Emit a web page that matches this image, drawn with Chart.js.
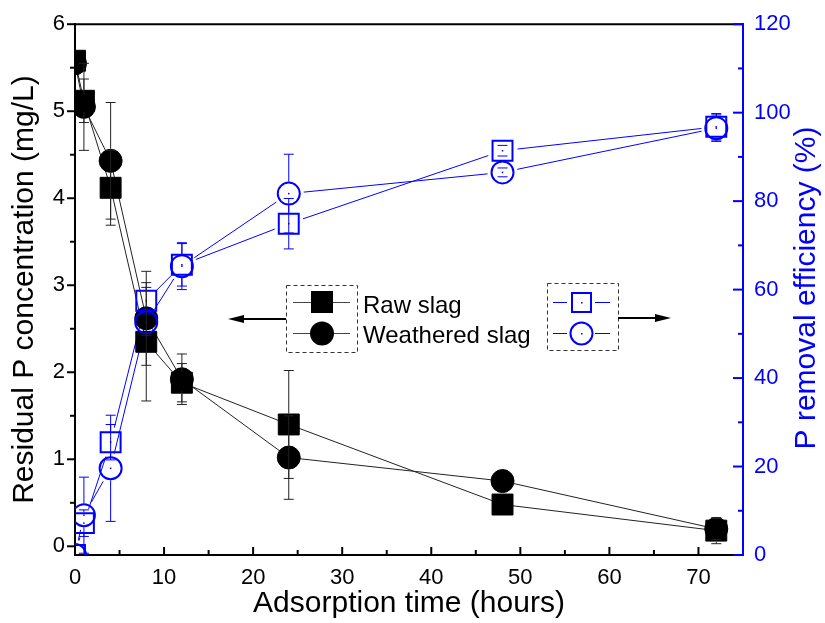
<!DOCTYPE html>
<html>
<head>
<meta charset="utf-8">
<script src="https://cdn.jsdelivr.net/npm/chart.js@4.4.1/dist/chart.umd.min.js"></script>
<style>
  html, body { margin: 0; padding: 0; background: #fff; }
</style>
</head>
<body>
<canvas id="adsorptionChart" width="825" height="623"></canvas>
<script>
// Datos
const timeHours = [0, 1, 4, 8, 12, 24, 48, 72];

// Concentración residual de P (mg/L), eje izquierdo
const rawConc = [5.58, 5.12, 4.12, 2.35, 1.88, 1.40, 0.48, 0.18];
const rawConcErr = [0, 0.25, 0.43, 0.68, 0.22, 0.62, 0, 0.15];
const weatheredConc = [5.55, 5.05, 4.43, 2.62, 1.92, 1.02, 0.75, 0.20];
const weatheredConcErr = [0, 0.50, 0.67, 0.54, 0.29, 0.48, 0, 0.12];

// Eficiencia de eliminación de P (%), eje derecho
const rawRemoval = [0, 7.2, 25.5, 57.5, 65.6, 74.9, 91.4, 96.8];
const rawRemovalErr = [0, 3, 4, 3, 4.8, 5.7, 1.2, 3];
const weatheredRemoval = [0, 9.0, 19.6, 52.6, 65.3, 81.7, 86.5, 96.5];
const weatheredRemovalErr = [0, 8.6, 12, 3, 5.3, 8.9, 1, 3];

// Marcas de los ejes
const xTicks = [0, 10, 20, 30, 40, 50, 60, 70];
const xMinorTicks = [5, 15, 25, 35, 45, 55, 65];
const concTicks = [0, 1, 2, 3, 4, 5, 6];
const concMinorTicks = [0.5, 1.5, 2.5, 3.5, 4.5, 5.5];
const removalTicks = [0, 20, 40, 60, 80, 100, 120];
const removalMinorTicks = [10, 30, 50, 70, 90, 110];

const BLUE = "#0000ff";
const FONT = "'Liberation Sans', Arial, sans-serif";

const toPoints = (xs, ys) => xs.map((x, i) => ({ x, y: ys[i] }));

// Líneas con hueco alrededor de los marcadores, barras de error, marcas, leyenda
const decorations = {
  id: "decorations",
  beforeDatasetsDraw(chart) {
    const { ctx, chartArea } = chart;
    ctx.save();
    ctx.beginPath();
    ctx.rect(chartArea.left, chartArea.top, chartArea.width, chartArea.height);
    ctx.clip();
    ctx.lineWidth = 1;
    chart.data.datasets.forEach((ds, i) => {
      const pts = chart.getDatasetMeta(i).data;
      const gap = ds.lineGap;
      ctx.strokeStyle = ds.lineColor;
      for (let k = 0; k < pts.length - 1; k++) {
        const a = pts[k], b = pts[k + 1];
        const dx = b.x - a.x, dy = b.y - a.y;
        const len = Math.hypot(dx, dy);
        if (len <= 2 * gap + 2) continue;
        const ux = dx / len, uy = dy / len;
        ctx.beginPath();
        ctx.moveTo(a.x + ux * gap, a.y + uy * gap);
        ctx.lineTo(b.x - ux * gap, b.y - uy * gap);
        ctx.stroke();
      }
    });
    ctx.restore();
  },
  // los marcadores se recortan en el área del gráfico (puntos en t = 0)
  beforeDatasetDraw(chart) {
    const { ctx, chartArea } = chart;
    ctx.save();
    ctx.beginPath();
    ctx.rect(chartArea.left, chartArea.top, chartArea.width, chartArea.height);
    ctx.clip();
  },
  afterDatasetDraw(chart) {
    chart.ctx.restore();
  },
  afterDatasetsDraw(chart) {
    const { ctx, chartArea } = chart;

    // barras de error
    chart.data.datasets.forEach((ds, i) => {
      const pts = chart.getDatasetMeta(i).data;
      const yScale = chart.scales[ds.yAxisID];
      ctx.save();
      ctx.strokeStyle = ds.errorColor;
      ctx.lineWidth = 1;
      pts.forEach((pt, k) => {
        const e = ds.errors[k];
        if (!e) return;
        const v = ds.data[k].y;
        const yTop = yScale.getPixelForValue(v + e);
        const yBot = yScale.getPixelForValue(v - e);
        const h = ds.halfSize;
        ctx.beginPath();
        if (pt.y - h > yTop) { ctx.moveTo(pt.x, pt.y - h); ctx.lineTo(pt.x, yTop); }
        if (pt.y + h < yBot) { ctx.moveTo(pt.x, pt.y + h); ctx.lineTo(pt.x, yBot); }
        ctx.moveTo(pt.x - 5, yTop); ctx.lineTo(pt.x + 5, yTop);
        ctx.moveTo(pt.x - 5, yBot); ctx.lineTo(pt.x + 5, yBot);
        ctx.stroke();
      });
      // punto central de los marcadores huecos
      if (ds.centerDot) {
        ctx.fillStyle = ds.pointBorderColor;
        pts.forEach(pt => {
          if (pt.x < chartArea.left + 1 || pt.y > chartArea.bottom - 1) return;
          ctx.fillRect(pt.x - 0.75, pt.y - 0.75, 1.5, 1.5);
        });
      }
      ctx.restore();
    });
  },
  afterDraw(chart) {
    const { ctx, chartArea, scales } = chart;
    const { left, right, top, bottom } = chartArea;
    ctx.save();

    // borde superior
    ctx.strokeStyle = "#000";
    ctx.lineWidth = 2;
    ctx.beginPath();
    ctx.moveTo(left, top);
    ctx.lineTo(right, top);
    ctx.stroke();

    // marcas de los ejes
    const tick = (x1, y1, x2, y2) => { ctx.beginPath(); ctx.moveTo(x1, y1); ctx.lineTo(x2, y2); ctx.stroke(); };
    ctx.strokeStyle = "#000";
    xTicks.forEach(v => { const p = scales.x.getPixelForValue(v); tick(p, bottom, p, bottom - 8); });
    xMinorTicks.forEach(v => { const p = scales.x.getPixelForValue(v); tick(p, bottom, p, bottom - 5); });
    concTicks.forEach(v => { const p = scales.y.getPixelForValue(v); tick(left, p, left - 8, p); });
    concMinorTicks.forEach(v => { const p = scales.y.getPixelForValue(v); tick(left, p, left - 5, p); });
    ctx.strokeStyle = BLUE;
    removalTicks.forEach(v => { const p = scales.y2.getPixelForValue(v); tick(right, p, right - 10, p); });
    removalMinorTicks.forEach(v => { const p = scales.y2.getPixelForValue(v); tick(right, p, right - 5, p); });

    // título del eje derecho (se lee de abajo arriba)
    ctx.save();
    ctx.translate(807, 288);
    ctx.rotate(-Math.PI / 2);
    ctx.fillStyle = BLUE;
    ctx.font = `30px ${FONT}`;
    ctx.textAlign = "center";
    ctx.textBaseline = "middle";
    ctx.fillText("P removal efficiency (%)", 0, 0);
    ctx.restore();

    // leyenda izquierda
    ctx.setLineDash([4, 3]);
    ctx.lineWidth = 1;
    ctx.strokeStyle = "#333";
    ctx.strokeRect(286.5, 285.5, 71, 67);
    ctx.strokeRect(547.5, 283.5, 71, 67);
    ctx.setLineDash([]);

    ctx.strokeStyle = "#444";
    tick(293, 302.5, 350, 302.5);
    tick(293, 333.5, 350, 333.5);
    ctx.fillStyle = "#000";
    ctx.fillRect(311, 291, 22, 22);
    ctx.beginPath();
    ctx.arc(322, 333.5, 12, 0, Math.PI * 2);
    ctx.fill();

    ctx.font = `24px ${FONT}`;
    ctx.textAlign = "left";
    ctx.textBaseline = "alphabetic";
    ctx.fillText("Raw slag", 363, 313);
    ctx.fillText("Weathered slag", 363, 343);

    // leyenda derecha
    ctx.strokeStyle = BLUE;
    ctx.lineWidth = 1;
    [302.5, 333.5].forEach(y => { tick(553, y, 567, y); tick(595, y, 610, y); });
    ctx.lineWidth = 2;
    ctx.strokeRect(572, 293, 19, 19);
    ctx.beginPath();
    ctx.arc(581.5, 333.5, 11, 0, Math.PI * 2);
    ctx.stroke();
    ctx.fillStyle = BLUE;
    ctx.fillRect(581, 302, 1.5, 1.5);
    ctx.fillRect(581, 333, 1.5, 1.5);

    // flechas
    ctx.strokeStyle = "#000";
    ctx.fillStyle = "#000";
    ctx.lineWidth = 2;
    tick(286, 319, 240, 319);
    ctx.beginPath();
    ctx.moveTo(228, 319); ctx.lineTo(244, 315); ctx.lineTo(244, 323); ctx.closePath();
    ctx.fill();
    tick(618, 318, 658, 318);
    ctx.beginPath();
    ctx.moveTo(671, 318); ctx.lineTo(655, 314); ctx.lineTo(655, 322); ctx.closePath();
    ctx.fill();

    ctx.restore();
  }
};

Chart.defaults.font.family = FONT;

new Chart(document.getElementById("adsorptionChart"), {
  type: "scatter",
  data: {
    datasets: [
      {
        label: "Weathered slag (removal)",
        data: toPoints(timeHours, weatheredRemoval),
        yAxisID: "y2",
        pointStyle: "circle",
        pointRadius: 11,
        pointBorderWidth: 2,
        pointBorderColor: BLUE,
        pointBackgroundColor: "rgba(0,0,0,0)",
        errors: weatheredRemovalErr,
        errorColor: BLUE,
        lineColor: BLUE,
        lineGap: 15,
        halfSize: 12,
        centerDot: true
      },
      {
        label: "Raw slag (removal)",
        data: toPoints(timeHours, rawRemoval),
        yAxisID: "y2",
        pointStyle: "rect",
        pointRadius: 14.1,
        pointBorderWidth: 2,
        pointBorderColor: BLUE,
        pointBackgroundColor: "rgba(0,0,0,0)",
        errors: rawRemovalErr,
        errorColor: BLUE,
        lineColor: BLUE,
        lineGap: 15,
        halfSize: 11,
        centerDot: true
      },
      {
        label: "Weathered slag",
        data: toPoints(timeHours, weatheredConc),
        yAxisID: "y",
        pointStyle: "circle",
        pointRadius: 11.5,
        pointBorderWidth: 1,
        pointBorderColor: "#000",
        pointBackgroundColor: "#000",
        errors: weatheredConcErr,
        errorColor: "#222",
        lineColor: "#222",
        lineGap: 0,
        halfSize: 12
      },
      {
        label: "Raw slag",
        data: toPoints(timeHours, rawConc),
        yAxisID: "y",
        pointStyle: "rect",
        pointRadius: 14.8,
        pointBorderWidth: 1,
        pointBorderColor: "#000",
        pointBackgroundColor: "#000",
        errors: rawConcErr,
        errorColor: "#222",
        lineColor: "#222",
        lineGap: 0,
        halfSize: 11
      }
    ]
  },
  options: {
    responsive: false,
    animation: false,
    layout: { padding: { top: 22, left: 0, right: 0, bottom: 0 } },
    plugins: {
      legend: { display: false },
      tooltip: { enabled: false }
    },
    scales: {
      x: {
        type: "linear",
        position: "bottom",
        min: 0,
        max: 75,
        afterBuildTicks: s => { s.ticks = xTicks.map(v => ({ value: v })); },
        afterFit: s => { s.height = 68; },
        grid: { drawOnChartArea: false, drawTicks: false },
        border: { color: "#000", width: 2 },
        ticks: { color: "#000", font: { size: 22 }, padding: 10, maxRotation: 0 },
        title: {
          display: true,
          text: "Adsorption time (hours)",
          color: "#000",
          font: { size: 30 },
          padding: { top: 0, bottom: 1 }
        }
      },
      y: {
        type: "linear",
        position: "left",
        min: -0.1,
        max: 6,
        afterBuildTicks: s => { s.ticks = concTicks.map(v => ({ value: v })); },
        afterFit: s => { s.width = 75; },
        grid: { drawOnChartArea: false, drawTicks: false },
        border: { color: "#000", width: 2 },
        ticks: { color: "#000", font: { size: 22 }, padding: 10 },
        title: {
          display: true,
          text: "Residual P concentration (mg/L)",
          color: "#000",
          font: { size: 30 },
          padding: { top: 7, bottom: 0 }
        }
      },
      y2: {
        type: "linear",
        position: "right",
        min: 0,
        max: 120,
        afterBuildTicks: s => { s.ticks = removalTicks.map(v => ({ value: v })); },
        afterFit: s => { s.width = 82; },
        grid: { drawOnChartArea: false, drawTicks: false },
        border: { color: BLUE, width: 2 },
        ticks: { color: BLUE, font: { size: 22 }, padding: 11 }
      }
    }
  },
  plugins: [decorations]
});
</script>
</body>
</html>
